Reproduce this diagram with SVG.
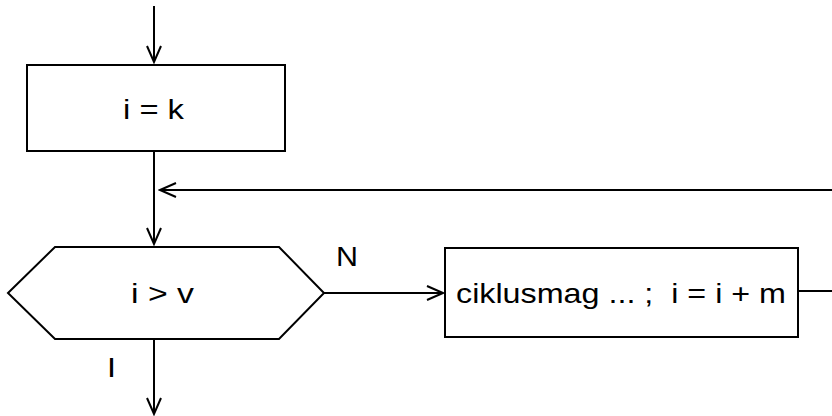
<svg xmlns="http://www.w3.org/2000/svg" width="832" height="416" viewBox="0 0 832 416">
  <defs>
    <marker id="arrow" markerUnits="userSpaceOnUse" markerWidth="20" markerHeight="20" viewBox="-18 -9 20 18" refX="0" refY="0" orient="auto">
      <path d="M-16,-7 L0,0 L-16,7" fill="none" stroke="#000" stroke-width="2"/>
    </marker>
  </defs>
  <style>
    .shape { fill: #fff; stroke: #000; stroke-width: 2; }
    .line { fill: none; stroke: #000; stroke-width: 2; }
    .label { font-family: "Liberation Sans", Arial, sans-serif; font-size: 28px; fill: #000; }
  </style>
  <rect width="832" height="416" fill="#fff"/>

  <!-- connectors -->
  <g id="connectors">
    <path class="line" d="M154,6 L154,62" marker-end="url(#arrow)"/>
    <path class="line" d="M154,151 L154,244" marker-end="url(#arrow)"/>
    <path class="line" d="M832,190 L160,190" marker-end="url(#arrow)"/>
    <path class="line" d="M324,293 L443,293" marker-end="url(#arrow)"/>
    <path class="line" d="M798,291 L832,291"/>
    <path class="line" d="M154,339 L154,414" marker-end="url(#arrow)"/>
    <text class="label" x="336" y="266" textLength="22" lengthAdjust="spacingAndGlyphs">N</text>
    <text class="label" x="107" y="377" textLength="9" lengthAdjust="spacingAndGlyphs">I</text>
  </g>

  <!-- init: i = k -->
  <g id="init">
    <rect class="shape" x="27" y="65" width="258" height="86"/>
    <text class="label" x="123" y="119" textLength="61" lengthAdjust="spacingAndGlyphs">i = k</text>
  </g>

  <!-- loop test: i > v -->
  <g id="test">
    <polygon class="shape" points="8,293 55,247 279,247 324,293 279,339 55,339"/>
    <text class="label" x="131" y="303" textLength="63" lengthAdjust="spacingAndGlyphs">i &gt; v</text>
  </g>

  <!-- loop body and increment -->
  <g id="body">
    <rect class="shape" x="445" y="248" width="353" height="89"/>
    <text class="label" x="456" y="303" textLength="330" lengthAdjust="spacingAndGlyphs" xml:space="preserve">ciklusmag ... ;  i = i + m</text>
  </g>
</svg>
